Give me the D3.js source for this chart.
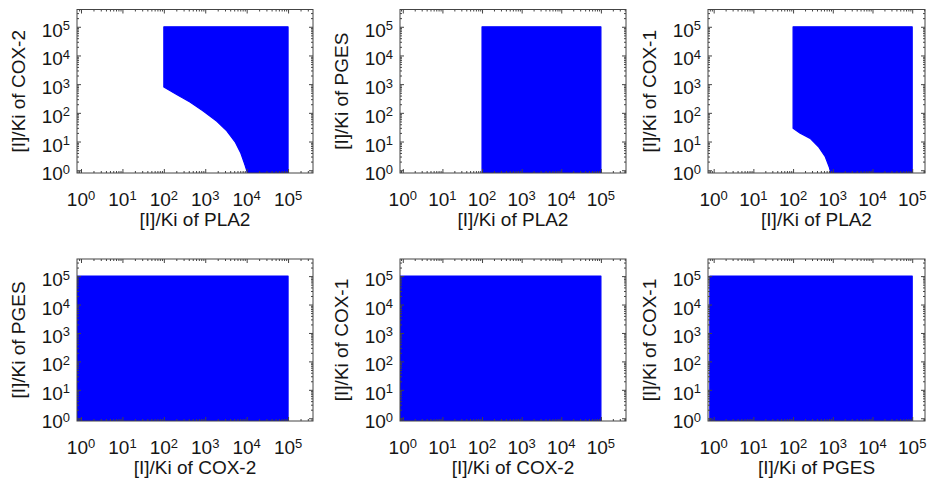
<!DOCTYPE html>
<html>
<head>
<meta charset="utf-8">
<script src="https://cdn.jsdelivr.net/npm/d3@7"></script>
<style>
  body { margin: 0; background: #fff; }
  text { font-family: "Liberation Sans", Arial, sans-serif; fill: #161616; }
</style>
</head>
<body>
<svg id="chart" width="931" height="486"></svg>
<script>
// Decade exponents carrying a labelled major tick
const tickExponents = [0, 1, 2, 3, 4, 5];
// Log-axis limits of the vertical axes
const yLimits = [0.8, 4e5];

const xTitles = ["[I]/Ki of PLA2", "[I]/Ki of PLA2", "[I]/Ki of PLA2",
                 "[I]/Ki of COX-2", "[I]/Ki of COX-2", "[I]/Ki of PGES"];
const yTitles = ["[I]/Ki of COX-2", "[I]/Ki of PGES", "[I]/Ki of COX-1",
                 "[I]/Ki of PGES", "[I]/Ki of COX-1", "[I]/Ki of COX-1"];

// Sampled inhibitor combinations, outlined as [x, y] boundary vertices
const regionPla2Cox2 = [[100, 1e5], [1e5, 1e5], [1e5, 0.8], [10470, 0.8], [9120, 1.5],
                        [7244, 3.9], [5248, 9.8], [3311, 23.4], [1905, 51], [891, 115],
                        [427, 240], [204, 437], [100, 800]];
const regionPla2Pges = [[100, 1e5], [1e5, 1e5], [1e5, 0.8], [100, 0.8]];
const regionPla2Cox1 = [[100, 1e5], [1e5, 1e5], [1e5, 0.8], [891, 0.8], [813, 1.3],
                        [646, 2.95], [436, 6.6], [269, 12.9], [151, 19.3], [100, 28.8]];
const regionCox2Pges = [[0.8, 1e5], [1e5, 1e5], [1e5, 0.8], [0.8, 0.8]];
const regionCox2Cox1 = [[0.8, 1e5], [1e5, 1e5], [1e5, 0.8], [0.8, 0.8]];
const regionPgesCox1 = [[0.8, 1e5], [1e5, 1e5], [1e5, 0.8], [0.8, 0.8]];

const regions = [regionPla2Cox2, regionPla2Pges, regionPla2Cox1,
                 regionCox2Pges, regionCox2Cox1, regionPgesCox1];

// Plot-box placement of the 3 x 2 grid, with each column's horizontal limits
const colFrames = [
  { left: 77, width: 236, xLimits: [0.8, 4e5] },
  { left: 400, width: 226, xLimits: [0.85, 4.3e5] },
  { left: 708, width: 217, xLimits: [0.72, 2.1e5] }
];
const rowFrames = [{ top: 9.5, height: 163.5 }, { top: 259, height: 162 }];

const svg = d3.select("#chart");
svg.append("rect").attr("width", 931).attr("height", 486).attr("fill", "#fff");

const majorTicks = tickExponents.map(e => Math.pow(10, e));
function minorTicksFor(lim) {
  const out = [];
  for (let e = -1; e <= 5; e++) {
    for (let m = 2; m <= 9; m++) {
      const v = m * Math.pow(10, e);
      if (v > lim[0] && v < lim[1]) out.push(v);
    }
  }
  return out;
}

function powerLabel(sel) {
  sel.each(function (d) {
    const t = d3.select(this);
    const exp = Math.round(Math.log10(d));
    t.text(null);
    t.append("tspan").text("10");
    t.append("tspan").attr("dy", "-0.5em").style("font-size", "13px").text(exp);
  });
}

regions.forEach((region, i) => {
  const col = colFrames[i % 3], row = rowFrames[Math.floor(i / 3)];
  const w = col.width, h = row.height;
  const g = svg.append("g").attr("transform", `translate(${col.left},${row.top})`);

  const x = d3.scaleLog().domain(col.xLimits).range([0, w]);
  const y = d3.scaleLog().domain(yLimits).range([h, 0]);

  const clipId = "clip" + i;
  g.append("clipPath").attr("id", clipId)
    .append("rect").attr("width", w).attr("height", h);

  const line = d3.line().x(d => x(d[0])).y(d => y(d[1])).curve(d3.curveLinearClosed);
  g.append("path")
    .attr("clip-path", `url(#${clipId})`)
    .attr("d", line(region))
    .attr("fill", "#0000ff")
    .attr("stroke", "#0000ff")
    .attr("stroke-width", 1.2)
    .attr("stroke-linejoin", "round");

  // inward ticks on all four sides
  const sides = [
    { axis: () => d3.axisBottom(x), t: `translate(0,${h})`, lim: col.xLimits },
    { axis: () => d3.axisTop(x), t: "translate(0,0)", lim: col.xLimits },
    { axis: () => d3.axisLeft(y), t: "translate(0,0)", lim: yLimits },
    { axis: () => d3.axisRight(y), t: `translate(${w},0)`, lim: yLimits }
  ];
  sides.forEach(s => {
    g.append("g").attr("transform", s.t)
      .call(s.axis().tickValues(minorTicksFor(s.lim)).tickSize(-2).tickFormat(""))
      .call(a => a.select(".domain").remove())
      .call(a => a.selectAll("line").attr("stroke", "#444"));
    g.append("g").attr("transform", s.t)
      .call(s.axis().tickValues(majorTicks).tickSize(-4).tickFormat(""))
      .call(a => a.select(".domain").remove())
      .call(a => a.selectAll("line").attr("stroke", "#444"));
  });

  // tick labels
  g.append("g").attr("transform", `translate(0,${h})`)
    .selectAll("text").data(majorTicks).join("text")
    .attr("x", d => x(d)).attr("y", 33)
    .attr("text-anchor", "middle").style("font-size", "19px")
    .call(powerLabel);
  g.append("g").selectAll("text").data(majorTicks).join("text")
    .attr("x", -7).attr("y", d => y(d) + 10)
    .attr("text-anchor", "end").style("font-size", "19px")
    .call(powerLabel);

  g.append("rect").attr("width", w).attr("height", h)
    .attr("fill", "none").attr("stroke", "#444").attr("stroke-width", 1);

  g.append("text").attr("x", w / 2).attr("y", h + 53)
    .attr("text-anchor", "middle").style("font-size", "19px")
    .text(xTitles[i]);
  g.append("text")
    .attr("transform", `translate(-52,${h / 2}) rotate(-90)`)
    .attr("text-anchor", "middle").style("font-size", "19px")
    .text(yTitles[i]);
});
</script>
</body>
</html>
